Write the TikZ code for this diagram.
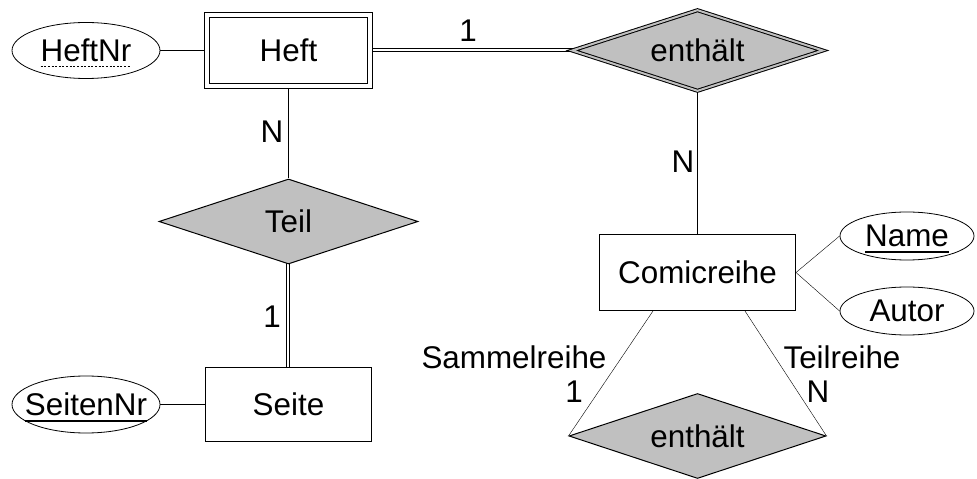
\documentclass[tikz,border=0pt]{standalone}
\usepackage{fontspec}
\setmainfont{Liberation Sans}
\usetikzlibrary{shapes.geometric,calc,backgrounds}
% solid underline for key attributes, dashed one for partial keys
\newsavebox{\ulbox}
\newcommand{\keyattr}[1]{\sbox{\ulbox}{#1}\usebox{\ulbox}%
  \llap{\raisebox{-6.5pt}[0pt][0pt]{\rule{\wd\ulbox}{1.8pt}}}}
\newcommand{\partkey}[1]{\sbox{\ulbox}{#1}\usebox{\ulbox}%
  \llap{\raisebox{-5.5pt}[0pt][0pt]{\hbox to\wd\ulbox{\xleaders\hbox{\rule{2pt}{0.8pt}\hskip1.6pt}\hfill}}}}
\definecolor{relfill}{RGB}{192,192,192}
\begin{document}
\begin{tikzpicture}[x=1bp,y=-1bp,
  every node/.style={font=\fontsize{31.5}{36}\selectfont, inner sep=0pt},
  line width=1bp,
  entity/.style={draw, fill=white, rectangle, minimum width=#1, minimum height=74bp},
  weakentity/.style={draw, fill=white, rectangle, double, double distance=4bp,
    minimum width=163bp, minimum height=71bp},
  attrib/.style={draw, fill=white, ellipse, line width=0.8bp},
  relation/.style={draw, fill=relfill, diamond, aspect=3,
    minimum width=257bp, minimum height=85bp},
  weakrel/.style={relation, double=relfill, double distance=2bp,
    minimum width=251bp, minimum height=81bp},
  card/.style={font=\fontsize{31.5}{36}\selectfont}
]
\useasboundingbox (0,0) rectangle (977,479);

% entities
\node[weakentity] (heft) at (288.5,50.5) {Heft};
\node[entity=166bp] (seite) at (288.5,404.5) {Seite};
\node[entity=196bp, minimum height=76bp] (comic) at (697.5,272.5) {Comicreihe};

% attributes
\node[attrib, minimum width=148bp, minimum height=56bp] (heftnr) at (86,50.5) {\partkey{HeftNr}};
\node[attrib, inner xsep=-9bp, minimum width=148bp, minimum height=57bp] (seitennr) at (86,404.5) {\keyattr{SeitenNr}};
\node[attrib, minimum width=134bp, minimum height=48bp] (name) at (907,236) {\keyattr{Name}};
\node[attrib, minimum width=134bp, minimum height=48bp] (autor) at (907,311) {Autor};

% relationships
\node[weakrel] (enthaeltA) at (697.5,50.5) {enthält};
\node[relation, minimum width=259bp] (teil) at (288.5,221.5) {Teil};
\node[relation] (enthaeltB) at (697.5,436) {enthält};

% connectors (total participation drawn as two parallel lines)
\begin{scope}[on background layer]
  \draw (heftnr) -- (heft);
  \draw ([yshift=-1bp]heft.center) -- ([yshift=-1bp]enthaeltA.center);
  \draw ([yshift=2bp]heft.center) -- ([yshift=2bp]enthaeltA.center);
  \draw (heft.south) -- (teil.north);
  \draw ([xshift=-2bp]teil.center) -- ([xshift=-2bp]seite.center);
  \draw ([xshift=1bp]teil.center) -- ([xshift=1bp]seite.center);
  \draw (seitennr) -- (seite);
  \draw (enthaeltA.south) -- (comic.north);
  \draw (comic.east) -- (name.west);
  \draw (comic.east) -- (autor.west);
  \draw ($(comic.south west)!0.274!(comic.south east)$) -- (enthaeltB.west);
  \draw ($(comic.south west)!0.741!(comic.south east)$) -- (enthaeltB.east);
\end{scope}

% cardinalities and roles
\node[card] (c1) at (468,31) {1};
\node[card] (c2) at (272,132) {N};
\node[card] (c3) at (683,162) {N};
\node[card] (c4) at (272,317) {1};
\node[card] (r1) at (514,357) {Sammelreihe};
\node[card] (c5) at (574,392) {1};
\node[card] (r2) at (842,357) {Teilreihe};
\node[card] (c6) at (818,392) {N};
\end{tikzpicture}
\end{document}
